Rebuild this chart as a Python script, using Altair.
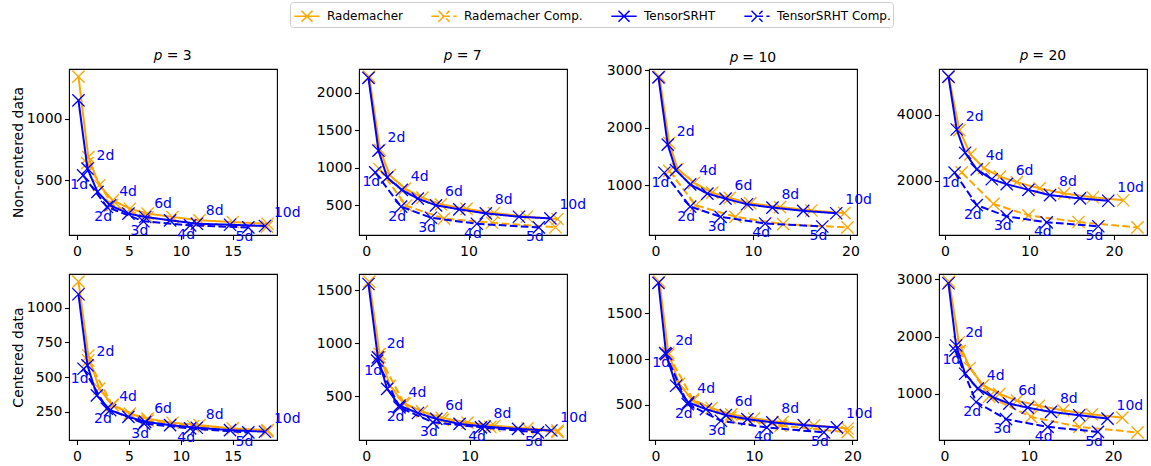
import altair as alt
import pandas as pd

SERIES = ["Rademacher", "Rademacher Comp.", "TensorSRHT", "TensorSRHT Comp."]
SERIES_COLORS = ["orange", "orange", "blue", "blue"]
SERIES_DASHES = [[1, 0], [7.7, 3.3], [1, 0], [7.7, 3.3]]
P_VALUES = [3, 7, 10, 20]
ROW_TITLES = ["Non-centered data", "Centered data"]

X_TICKS = {3: [0, 5, 10, 15], 7: [0, 10], 10: [0, 10, 20], 20: [0, 10, 20]}
Y_TICKS_NC = {3: [500, 1000], 7: [500, 1000, 1500, 2000], 10: [1000, 2000, 3000], 20: [2000, 4000]}
Y_TICKS_C = {3: [250, 500, 750, 1000], 7: [500, 1000, 1500], 10: [500, 1000, 1500], 20: [1000, 2000, 3000]}

# ---- Non-centered data ----
nc3_rad_x = [0.15, 1.1, 2.15, 3.45, 5.1, 6.8, 9.2, 11.8, 15.0, 18.35]
nc3_rad_y = [1342, 689, 460, 338, 270, 230, 203, 176, 162, 148]
nc3_radc_x = [1.0, 3.4, 6.8, 11.6, 18.3]
nc3_radc_y = [640, 300, 200, 150, 125]
nc3_ts_x = [0.15, 1.02, 1.98, 3.2, 4.96, 6.57, 8.97, 11.54, 14.74, 18.1]
nc3_ts_y = [1149, 595, 406, 298, 230, 203, 176, 148, 140, 130]
nc3_tsc_x = [0.6, 2.9, 6.4, 10.9, 16.5]
nc3_tsc_y = [541, 284, 168, 135, 118]

nc7_rad_x = [0.3, 1.35, 2.3, 3.8, 5.5, 7.3, 9.8, 12.5, 15.7, 18.7]
nc7_rad_y = [2218, 1240, 900, 720, 600, 510, 450, 395, 345, 315]
nc7_radc_x = [1.3, 3.9, 7.6, 12.3, 18.5]
nc7_radc_y = [980, 493, 320, 265, 205]
nc7_ts_x = [0.22, 1.2, 2.05, 3.48, 5.04, 6.82, 9.1, 11.69, 14.93, 18.0]
nc7_ts_y = [2200, 1228, 870, 704, 587, 498, 444, 390, 345, 323]
nc7_tsc_x = [0.88, 3.41, 6.33, 10.81, 16.87]
nc7_tsc_y = [937, 480, 332, 251, 202]

nc10_rad_x = [0.41, 1.42, 2.28, 3.96, 5.83, 7.62, 9.73, 12.77, 15.99, 19.38]
nc10_rad_y = [2890, 1735, 1285, 1043, 870, 780, 685, 620, 560, 515]
nc10_radc_x = [1.42, 4.14, 8.2, 13.1, 19.7]
nc10_radc_y = [1250, 651, 450, 322, 265]
nc10_ts_x = [0.31, 1.26, 2.1, 3.56, 5.33, 7.19, 9.39, 12.0, 15.15, 18.54]
nc10_ts_y = [2877, 1706, 1263, 1014, 853, 766, 668, 611, 554, 512]
nc10_tsc_x = [0.91, 3.56, 6.68, 11.25, 17.11]
nc10_tsc_y = [1216, 628, 450, 334, 282]

nc20_rad_x = [0.45, 1.7, 3.0, 4.6, 6.5, 8.5, 11.2, 14.1, 17.5, 21.1]
nc20_rad_y = [5150, 3540, 2800, 2380, 2120, 1950, 1760, 1610, 1490, 1400]
nc20_radc_x = [1.97, 5.73, 9.87, 15.8, 22.8]
nc20_radc_y = [2250, 1290, 940, 736, 570]
nc20_ts_x = [0.40, 1.38, 2.37, 3.75, 5.53, 7.30, 9.87, 12.43, 15.98, 19.33]
nc20_ts_y = [5172, 3556, 2848, 2343, 2040, 1889, 1717, 1556, 1455, 1384]
nc20_tsc_x = [1.13, 3.75, 7.30, 12.04, 18.15]
nc20_tsc_y = [2242, 1252, 909, 727, 606]

# ---- Centered data ----
c3_rad_x = [0.15, 1.1, 2.15, 3.45, 5.1, 6.8, 9.2, 11.8, 15.0, 18.35]
c3_rad_y = [1190, 656, 416, 297, 236, 200, 170, 153, 129, 117]
c3_radc_x = [1.1, 3.4, 6.8, 11.2, 18.3]
c3_radc_y = [620, 300, 185, 145, 110]
c3_ts_x = [0.15, 1.02, 1.92, 3.2, 4.96, 6.57, 8.97, 11.54, 14.74, 18.1]
c3_ts_y = [1098, 584, 368, 261, 213, 177, 153, 134, 117, 105]
c3_tsc_x = [0.64, 2.88, 6.47, 10.9, 16.5]
c3_tsc_y = [560, 272, 164, 129, 100]

c7_rad_x = [0.3, 1.3, 2.3, 3.6, 5.4, 7.3, 9.8, 12.4, 15.6, 18.5]
c7_rad_y = [1580, 900, 600, 440, 360, 300, 255, 225, 200, 180]
c7_radc_x = [1.3, 3.7, 7.4, 12.0, 18.5]
c7_radc_y = [870, 430, 280, 215, 165]
c7_ts_x = [0.22, 1.13, 2.03, 3.22, 5.0, 6.78, 9.03, 11.45, 14.68, 17.9]
c7_ts_y = [1557, 868, 571, 414, 345, 289, 242, 217, 195, 180]
c7_tsc_x = [1.06, 3.22, 6.45, 11.1, 16.6]
c7_tsc_y = [837, 398, 257, 210, 162]

c10_rad_x = [0.4, 1.3, 2.4, 3.8, 5.7, 7.7, 10.0, 12.9, 16.1, 19.5]
c10_rad_y = [1850, 1070, 730, 545, 465, 395, 350, 310, 275, 240]
c10_radc_x = [1.3, 3.8, 7.6, 12.7, 19.5]
c10_radc_y = [1050, 560, 360, 270, 200]
c10_ts_x = [0.3, 1.08, 2.09, 3.33, 5.12, 7.14, 9.33, 11.86, 15.05, 18.42]
c10_ts_y = [1835, 1055, 709, 526, 452, 387, 343, 307, 277, 252]
c10_tsc_x = [0.98, 3.27, 6.64, 11.3, 17.1]
c10_tsc_y = [1066, 507, 325, 252, 197]

c20_rad_x = [0.55, 1.7, 3.0, 4.6, 6.5, 8.6, 11.2, 14.1, 17.5, 21.1]
c20_rad_y = [2960, 1900, 1450, 1150, 1000, 880, 790, 710, 640, 584]
c20_radc_x = [1.8, 5.3, 10.26, 16.0, 22.9]
c20_radc_y = [1750, 950, 597, 423, 325]
c20_ts_x = [0.47, 1.38, 2.45, 3.95, 5.73, 7.69, 9.87, 12.63, 15.98, 19.34]
c20_ts_y = [2930, 1843, 1350, 1089, 944, 828, 758, 683, 626, 567]
c20_tsc_x = [1.27, 3.75, 7.3, 12.23, 18.2]
c20_tsc_y = [1757, 857, 557, 423, 335]

FONT = "DejaVu Sans"
X_MARKER = "M-1,-1L1,1M-1,1L1,-1"
LEGEND_SYMBOL = "M-1.15,0L1.15,0M-0.5,-0.5L0.5,0.5M-0.5,0.5L0.5,-0.5"
# panel titles sit above any tick label that pokes out of the frame top
TITLE_DY = {3: 0, 7: 0, 10: 7, 20: 0}

color_scale = alt.Scale(domain=SERIES, range=SERIES_COLORS)
dash_scale = alt.Scale(domain=SERIES, range=SERIES_DASHES)
legend = alt.Legend(
    title=None, orient="none", legendX=221, legendY=-67, direction="horizontal",
    columns=4, symbolType=LEGEND_SYMBOL, symbolSize=484, symbolStrokeWidth=1.5,
    symbolOffset=3, labelFont=FONT, labelFontSize=12, labelColor="black",
    labelOffset=8, columnPadding=25, strokeColor="#cccccc", fillColor="white",
    padding=2, cornerRadius=3,
)


def make_panel(series_xy, p, y_ticks, row_title, show_title):
    frames = []
    for name, (xs, ys) in zip(SERIES, series_xy):
        frames.append(pd.DataFrame({"series": name, "x": xs, "y": ys,
                                    "k": list(range(1, len(xs) + 1))}))
    all_x = pd.concat(frames)["x"]
    all_y = pd.concat(frames)["y"]
    xpad = 0.05 * (all_x.max() - all_x.min())
    ypad = 0.05 * (all_y.max() - all_y.min())
    x_scale = alt.Scale(domain=[all_x.min() - xpad, all_x.max() + xpad], nice=False, zero=False)
    y_scale = alt.Scale(domain=[all_y.min() - ypad, all_y.max() + ypad], nice=False, zero=False)

    x_axis = alt.Axis(values=X_TICKS[p], format="d", title=None, labelFlush=False)
    if row_title:
        y_axis = alt.Axis(values=y_ticks, format="d", title=row_title,
                          minExtent=38, maxExtent=38, titlePadding=6)
    else:
        y_axis = alt.Axis(values=y_ticks, format="d", title=None)

    xenc = alt.X("x:Q", scale=x_scale, axis=x_axis)
    yenc = alt.Y("y:Q", scale=y_scale, axis=y_axis)

    layers = []
    for df, color in zip(frames, SERIES_COLORS):
        base = alt.Chart(df)
        line = base.mark_line(strokeWidth=2).encode(
            x=xenc, y=yenc,
            color=alt.Color("series:N", scale=color_scale, legend=legend),
            strokeDash=alt.StrokeDash("series:N", scale=dash_scale, legend=legend),
        )
        marks = base.mark_point(shape=X_MARKER, filled=False, size=150,
                                strokeWidth=1.3, color=color, opacity=1).encode(x=xenc, y=yenc)
        layers += [line, marks]

    # sketch sizes next to the TensorSRHT points
    ts = frames[2].copy()
    ts["label"] = ts["k"].astype(str) + "d"
    ts = ts[ts["k"] % 2 == 0]
    tsc = frames[3].copy()
    tsc["label"] = tsc["k"].astype(str) + "d"
    layers.append(alt.Chart(ts).mark_text(align="left", baseline="middle", dx=9, dy=-13,
                                          fontSize=14, font=FONT, color="blue")
                  .encode(x=xenc, y=yenc, text="label:N"))
    layers.append(alt.Chart(tsc).mark_text(align="right", baseline="middle", dx=5, dy=10,
                                           fontSize=14, font=FONT, color="blue")
                  .encode(x=xenc, y=yenc, text="label:N"))

    props = dict(width=208, height=166)
    if show_title:
        props["title"] = alt.TitleParams(f"\U0001D45D = {p}", font=FONT, fontSize=14,
                                         fontWeight="normal", color="black",
                                         anchor="middle", frame="group", offset=5,
                                         dy=TITLE_DY[p])
    return alt.layer(*layers).properties(**props)


nc = {
    3: [(nc3_rad_x, nc3_rad_y), (nc3_radc_x, nc3_radc_y), (nc3_ts_x, nc3_ts_y), (nc3_tsc_x, nc3_tsc_y)],
    7: [(nc7_rad_x, nc7_rad_y), (nc7_radc_x, nc7_radc_y), (nc7_ts_x, nc7_ts_y), (nc7_tsc_x, nc7_tsc_y)],
    10: [(nc10_rad_x, nc10_rad_y), (nc10_radc_x, nc10_radc_y), (nc10_ts_x, nc10_ts_y), (nc10_tsc_x, nc10_tsc_y)],
    20: [(nc20_rad_x, nc20_rad_y), (nc20_radc_x, nc20_radc_y), (nc20_ts_x, nc20_ts_y), (nc20_tsc_x, nc20_tsc_y)],
}
cd = {
    3: [(c3_rad_x, c3_rad_y), (c3_radc_x, c3_radc_y), (c3_ts_x, c3_ts_y), (c3_tsc_x, c3_tsc_y)],
    7: [(c7_rad_x, c7_rad_y), (c7_radc_x, c7_radc_y), (c7_ts_x, c7_ts_y), (c7_tsc_x, c7_tsc_y)],
    10: [(c10_rad_x, c10_rad_y), (c10_radc_x, c10_radc_y), (c10_ts_x, c10_ts_y), (c10_tsc_x, c10_tsc_y)],
    20: [(c20_rad_x, c20_rad_y), (c20_radc_x, c20_radc_y), (c20_ts_x, c20_ts_y), (c20_tsc_x, c20_tsc_y)],
}

panels = []
for i, p in enumerate(P_VALUES):
    panels.append(make_panel(nc[p], p, Y_TICKS_NC[p], ROW_TITLES[0] if i == 0 else None, True))
for i, p in enumerate(P_VALUES):
    panels.append(make_panel(cd[p], p, Y_TICKS_C[p], ROW_TITLES[1] if i == 0 else None, False))

chart = alt.concat(
    *panels, columns=4, spacing={"row": 39, "column": 82}, bounds="flush"
).properties(
    padding={"left": 10, "top": 1, "right": 2, "bottom": 2},
    background="white",
).configure_view(
    stroke="black", strokeWidth=1.1
).configure_axis(
    domain=False, grid=False, tickColor="black", tickSize=4.5, tickWidth=1.1,
    labelFont=FONT, labelFontSize=14, labelColor="black", labelPadding=2.5,
    titleFont=FONT, titleFontSize=14, titleFontWeight="normal", titleColor="black",
).configure_axisX(
    labelPadding=4.5
)

chart.save("out.html", embed_options={"renderer": "svg", "actions": False})
